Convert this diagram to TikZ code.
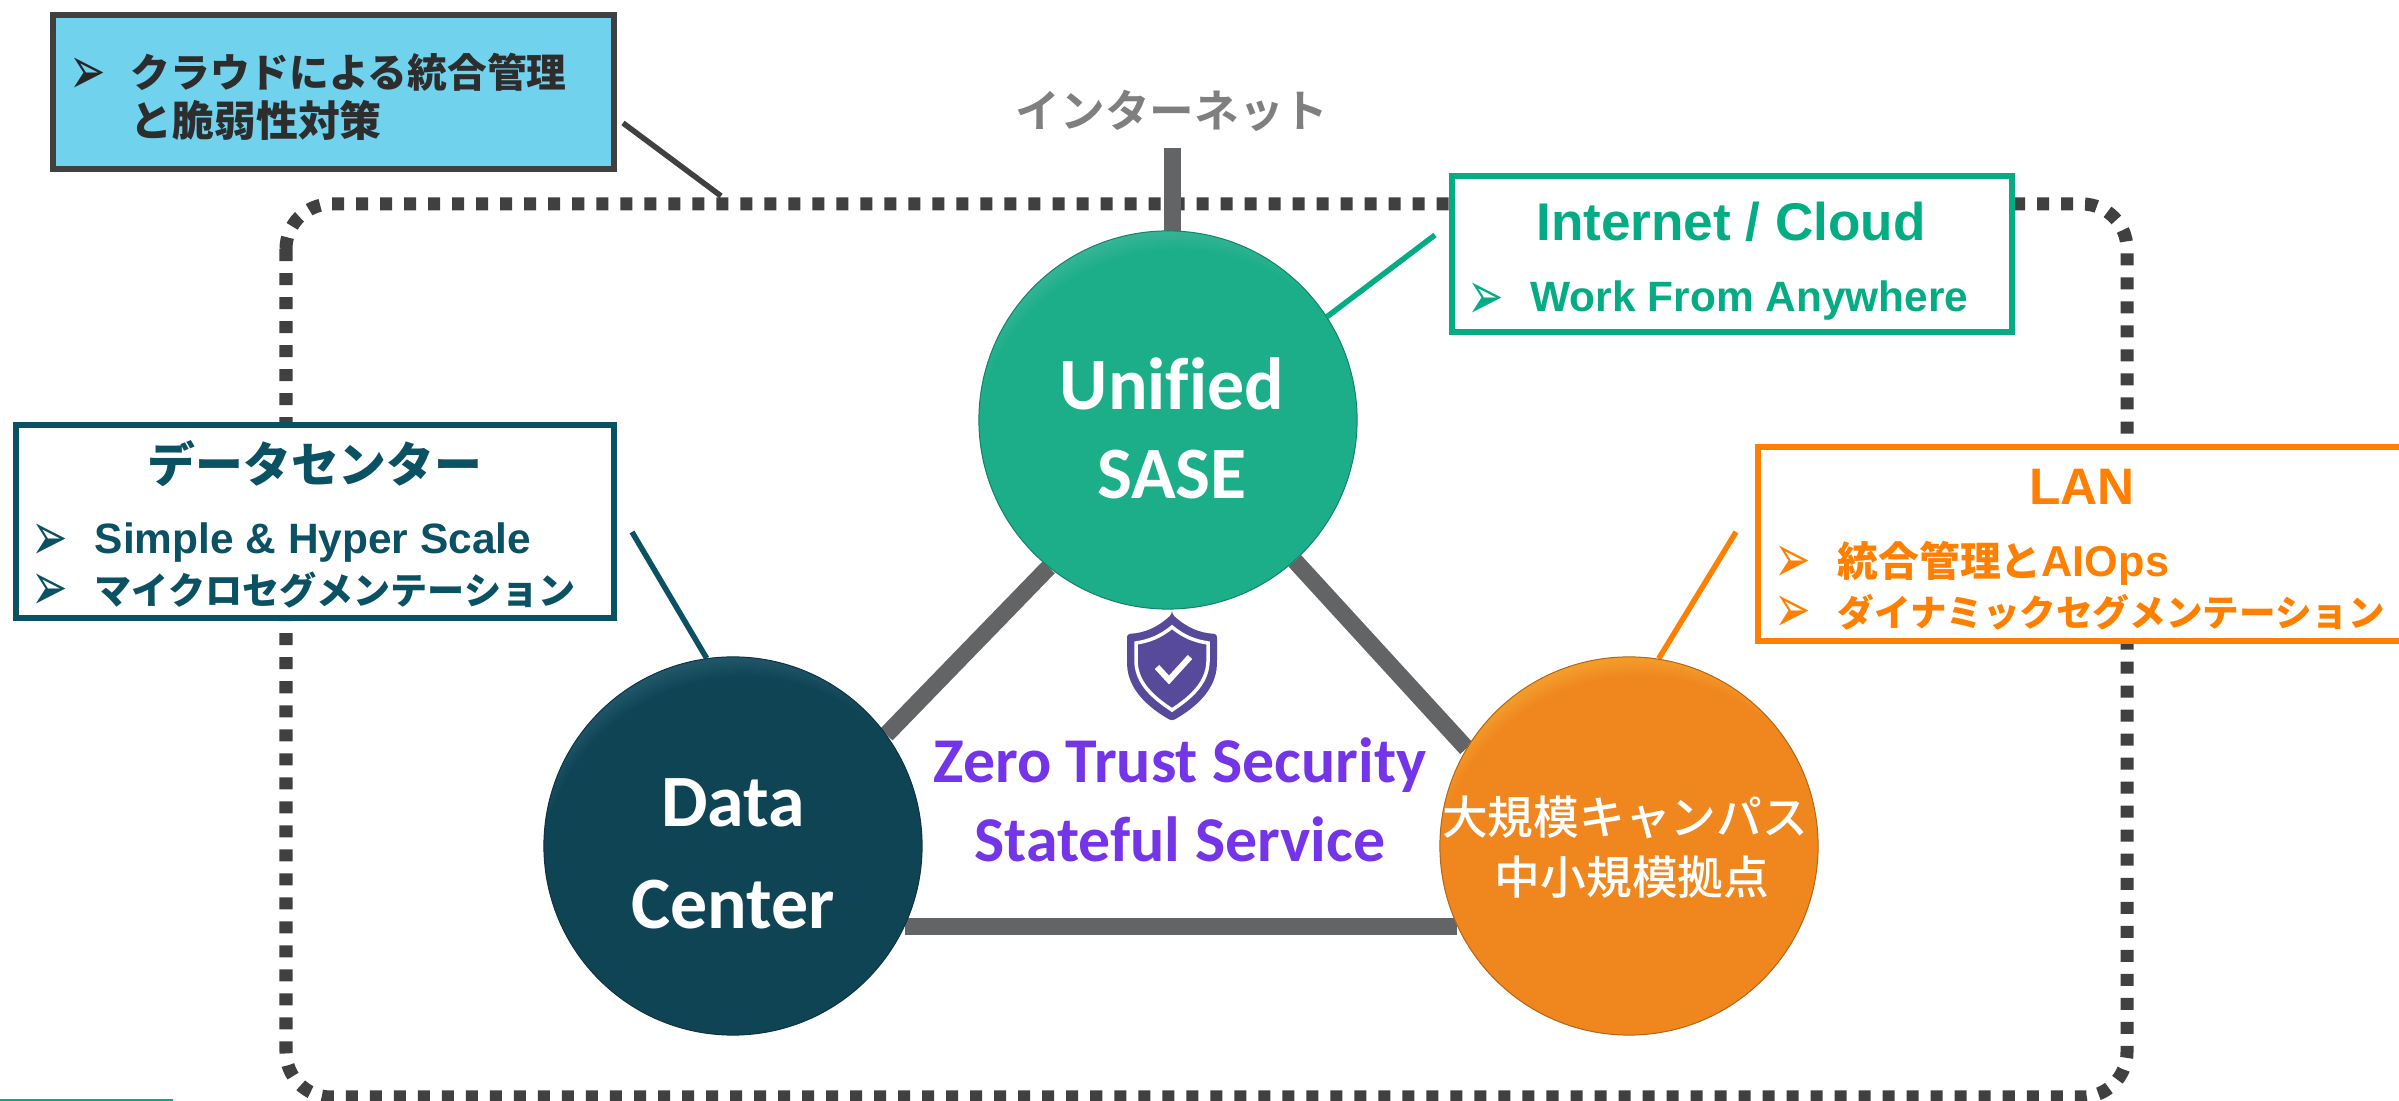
\documentclass[tikz,border=0pt]{standalone}
\usepackage{fontspec}
\setmainfont{Liberation Sans}
\newfontfamily\jpfont{Noto Sans CJK JP Bold}
\newfontfamily\jpmedfont{Noto Sans CJK JP Medium}
\newfontfamily\calfont[Ligatures=NoCommon]{Carlito}
\newfontfamily\bulfont{DejaVu Sans}
\usetikzlibrary{backgrounds,calc}
\definecolor{cyanfill}{HTML}{71D2EE}
\definecolor{darkline}{HTML}{404040}
\definecolor{tealline}{HTML}{0B5164}
\definecolor{greenline}{HTML}{04AC84}
\definecolor{orangeline}{HTML}{FF8000}
\definecolor{barline}{HTML}{636466}
\definecolor{violettext}{HTML}{7434E8}
\definecolor{shieldfill}{HTML}{574A9B}
\definecolor{nettext}{HTML}{7F7F7F}
\definecolor{greenbody}{HTML}{1BAE88}
\definecolor{greenglow}{HTML}{7CC4BA}
\definecolor{tealbody}{HTML}{0F4455}
\definecolor{tealglow}{HTML}{4F8A9C}
\definecolor{orangebody}{HTML}{F0861E}
\definecolor{orangeglow}{HTML}{F9DC50}
\pgfdeclareradialshading{greenball}{\pgfpoint{3bp}{-10bp}}{color(0bp)=(greenbody);color(27bp)=(greenbody);color(35bp)=(greenglow);color(50bp)=(greenglow)}
\pgfdeclareradialshading{tealball}{\pgfpoint{3bp}{-10bp}}{color(0bp)=(tealbody);color(27bp)=(tealbody);color(35bp)=(tealglow);color(50bp)=(tealglow)}
\pgfdeclareradialshading{orangeball}{\pgfpoint{3bp}{-10bp}}{color(0bp)=(orangebody);color(27bp)=(orangebody);color(35bp)=(orangeglow);color(50bp)=(orangeglow)}
\tikzset{
    ball/.style = {circle, minimum size=3.78cm, inner sep=0, text=white, line width=.01cm},
    infobox/.style = {draw, rectangle, line width=.06cm, fill=white, inner sep=0},
    rowtext/.style = {anchor=base west, inner sep=0, font=\bfseries},
    headtext/.style = {anchor=base, inner sep=0, font=\bfseries},
    bar/.style = {draw=barline, line width=.17cm},
    lead/.style = {line width=.055cm}
}
\newcommand{\szfont}[1]{\fontsize{#1}{#1}\selectfont}
\newcommand{\bulmark}{\scalebox{1.24}[1.95]{\bulfont\mdseries ➢}}
\begin{document}
\begin{tikzpicture}[x=.01cm,y=-.01cm]
    \useasboundingbox (0,0) rectangle (2399,1101);
    % circles
    \node[ball,shading=greenball,draw=greenbody!75!black] (sase) at (1168,420) {};
    \node[ball,shading=tealball,draw=tealbody!75!black] (dc) at (733,846) {};
    \node[ball,shading=orangeball,draw=orangebody!75!black] (lan) at (1629,846) {};
    \node[text=white,inner sep=0] (sasetext) at (1172,439) {\calfont\bfseries\szfont{21}\begin{tabular}{@{}c@{}}Unified\\[4.2pt]SASE\end{tabular}};
    \node[text=white,inner sep=0] (dctext) at (733,863) {\calfont\bfseries\szfont{21}\begin{tabular}{@{}c@{}}Data\\[7.9pt]Center\end{tabular}};
    \node[text=white,inner sep=0] (lantext) at (1625,852) {\jpmedfont\szfont{13}\begin{tabular}{@{}c@{}}大規模キャンパス\\[2pt]\hspace*{4pt}中小規模拠点\end{tabular}};
    % boxes
    \node[infobox,fill=cyanfill,draw=darkline,minimum width=5.6cm,minimum height=1.54cm] (cloudbox) at (333.5,92) {};
    \node[infobox,draw=tealline,minimum width=5.97cm,minimum height=1.92cm] (dcbox) at (315,521.5) {};
    \node[infobox,draw=greenline,minimum width=5.6cm,minimum height=1.55cm] (netbox) at (1732,254) {};
    \node[infobox,draw=orangeline,minimum width=6.5cm,minimum height=1.93cm] (lanbox) at (2083,544) {};
    % free ends
    \coordinate (rimpt) at (721,196);
    \coordinate (cloudend) at (623,123);
    \coordinate (dcend) at (632,532);
    \coordinate (netend) at (1435,235);
    \coordinate (lanend) at (1736,532);
    \coordinate (nettop) at (1172,148);
    \coordinate (strayl) at (0,1100);
    \coordinate (strayr) at (173,1100);
    % behind everything
    \begin{scope}[on background layer]
    \draw[darkline,line width=.13cm,dash pattern=on .12cm off .12cm,rounded corners=.45cm] (286,204) rectangle (2127,1097);
    \draw[bar] (nettop) -- (nettop |- sase.center);
    \draw[bar] (sase.231) -- (dc.36);
    \draw[bar] (sase.312) -- (lan.149);
    \draw[bar] (dc.-25) -- (lan.205);
    \draw[darkline,lead] (cloudend) -- (rimpt);
    \draw[tealline,lead] (dcend) -- (dc.98);
    \draw[greenline,lead] (netend) -- (sase.33);
    \draw[orangeline,lead] (lanend) -- (lan.81);
    \draw[greenline,line width=.02cm] (strayl) -- (strayr);
    \end{scope}
    % texts
    \node[text=nettext,inner sep=0] (nettitle) at (1172,111) {\jpfont\szfont{12.7}インターネット};
    \node[rowtext,text=darkline!70!black] (cloudrow) at (130,88) {\jpfont\szfont{11.3}クラウドによる統合管理};
    \node[rowtext,text=darkline!70!black] (cloudrowb) at (130,137) {\jpfont\szfont{11.9}と脆弱性対策};
    \node[rowtext,text=black!85] (cloudbul) at (69,95) {\bulmark};
    \node[headtext,text=tealline] (dchead) at (315,483) {\jpfont\szfont{13.6}データセンター};
    \node[rowtext,text=tealline] (dcrow) at (94,554) {\szfont{12.07}Simple \& Hyper Scale};
    \node[rowtext,text=tealline] (dcrowb) at (94,605) {\jpfont\szfont{10.55}マイクロセグメンテーション};
    \node[rowtext,text=tealline] (dcbul) at (31,561) {\bulmark};
    \node[rowtext,text=tealline] (dcbulb) at (31,611) {\bulmark};
    \node[headtext,text=greenline] (nethead) at (1731,241) {\szfont{15.1}Internet / Cloud};
    \node[rowtext,text=greenline] (netrow) at (1530,312) {\szfont{12.06}Work From Anywhere};
    \node[rowtext,text=greenline] (netbul) at (1467,320) {\bulmark};
    \node[headtext,text=orangeline] (lanhead) at (2082,505) {\szfont{14.6}LAN};
    \node[rowtext,text=orangeline] (lanrow) at (1837,577) {\jpfont\szfont{11.6}統合管理と\rmfamily\bfseries\szfont{12.3}AIOps};
    \node[rowtext,text=orangeline] (lanrowb) at (1837,627) {\jpfont\szfont{10.4}ダイナミックセグメンテーション};
    \node[rowtext,text=orangeline] (lanbul) at (1774,583) {\bulmark};
    \node[rowtext,text=orangeline] (lanbulb) at (1774,633) {\bulmark};
    \node[text=violettext,inner sep=0] (zerotext) at (1180,809) {\calfont\bfseries\szfont{18.15}\begin{tabular}{@{}c@{}}Zero Trust Security\\[4.4pt]Stateful Service\end{tabular}};
    % shield
    \fill[shieldfill,rounded corners=.03cm] (1172,614) .. controls (1187,628) and (1200,633) .. (1217,634) -- (1217,662) .. controls (1216,690) and (1195,708) .. (1172,721) .. controls (1149,708) and (1128,690) .. (1127,662) -- (1127,634) .. controls (1144,633) and (1157,628) .. (1172,614) -- cycle;
    \draw[white,line width=.035cm] (1172,627) .. controls (1184,637) and (1195,641) .. (1208,643) -- (1208,662) .. controls (1207,684) and (1190,698) .. (1172,710) .. controls (1154,698) and (1137,684) .. (1136,662) -- (1136,643) .. controls (1149,641) and (1160,637) .. (1172,627) -- cycle;
    \draw[white,line width=.06cm] (1157,667) -- (1169,680) -- (1190,657);
\end{tikzpicture}
\end{document}
